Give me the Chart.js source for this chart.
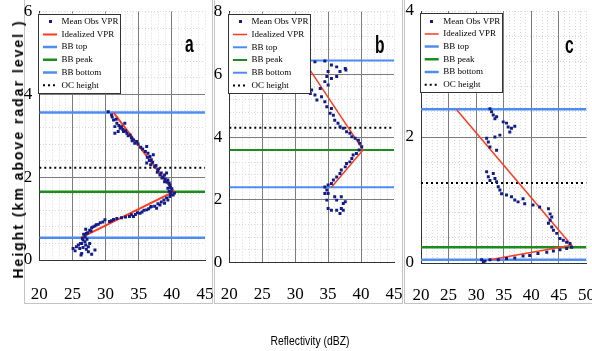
<!DOCTYPE html>
<html>
<head>
<meta charset="utf-8">
<script src="https://cdn.jsdelivr.net/npm/chart.js@4.4.0/dist/chart.umd.min.js"></script>
<style>
  html, body { margin: 0; padding: 0; background: #fff; }
  body { width: 592px; height: 351px; position: relative; overflow: hidden; }
  .box { position: absolute; top: -2px; height: 305.5px; border: 1.5px solid #c4c4c4; box-sizing: border-box; }
  canvas { position: absolute; top: 0; }
  .letter { position: absolute; font: bold 24px "Liberation Sans", Arial, sans-serif; color: #000; line-height: 1;
            transform: scaleX(0.65); transform-origin: 0 0; z-index: 5; }
  #ytitle { position: absolute; left: 18px; top: 149px; transform: translate(-50%, -50%) rotate(-90deg); white-space: nowrap;
            font: bold 14px "Liberation Sans", Arial, sans-serif; letter-spacing: 2px; z-index: 5; }
  #xtitle { position: absolute; left: 310px; top: 340px; transform: translate(-50%, -50%) scaleX(0.8); white-space: nowrap;
            font: 13px "Liberation Sans", Arial, sans-serif; z-index: 5; }
</style>
</head>
<body>
<div class="box" style="left:24px; width:188.5px;"></div>
<div class="box" style="left:213.5px; width:189px;"></div>
<div class="box" style="left:404px; width:192px;"></div>

<canvas id="chartA" width="204" height="303" style="left:14px"></canvas>
<canvas id="chartB" width="204" height="303" style="left:204px"></canvas>
<canvas id="chartC" width="196" height="303" style="left:396px"></canvas>

<div class="letter" style="left:184.7px; top:32.4px;">a</div>
<div class="letter" style="left:375px; top:32.7px;">b</div>
<div class="letter" style="left:564.7px; top:32.7px;">c</div>
<div id="ytitle">Height (km above radar level )</div>
<div id="xtitle">Reflectivity (dBZ)</div>

<script>
// series names (legend)
const seriesNames = ['Mean Obs VPR', 'Idealized VPR', 'BB top', 'BB peak', 'BB bottom', 'OC height'];

// panel a: [dBZ, km]
const obsA = [[30.4,3.58],[30.9,3.50],[31.0,3.45],[31.2,3.38],[31.6,3.40],[31.4,3.22],[31.7,3.30],[32.0,3.25],[31.9,3.10],[31.4,3.06],
  [32.2,3.18],[32.4,3.22],[32.6,3.15],[32.9,3.30],[32.7,3.10],[33.0,3.12],[33.2,3.06],[33.4,3.00],[33.7,3.02],[33.9,2.95],
  [34.0,2.88],[34.2,2.90],[34.4,2.82],[34.7,2.86],[34.9,2.80],[35.3,2.72],[35.6,2.68],[36.0,2.62],[36.2,2.74],[36.4,2.58],
  [36.3,2.48],[36.7,2.50],[36.6,2.40],[36.9,2.42],[37.2,2.54],[36.8,2.30],[37.1,2.36],[36.2,2.34],[37.4,2.25],[37.6,2.28],
  [37.9,2.17],[37.8,2.12],[38.0,2.20],[38.2,2.05],[38.4,2.10],[38.5,1.98],[38.7,2.00],[38.9,2.05],[39.2,2.10],[39.0,1.95],
  [39.4,1.93],[38.9,1.89],[39.3,1.88],[39.6,1.86],[39.7,1.81],[39.8,1.75],[39.4,1.73],[40.0,1.72],[39.6,1.66],[39.9,1.65],
  [40.4,1.62],[40.2,1.57],[39.8,1.58],[39.7,1.53],[39.2,1.50],[39.4,1.45],[38.8,1.45],[38.4,1.40],[38.9,1.37],[37.9,1.36],
  [38.2,1.33],[37.4,1.30],[36.9,1.29],[36.8,1.28],[37.7,1.25],[36.5,1.24],[36.2,1.21],[35.8,1.20],[35.5,1.16],[35.2,1.13],
  [34.8,1.14],[34.5,1.10],[34.2,1.05],[33.9,1.09],[33.6,1.05],[33.0,1.04],[32.4,1.02],[31.7,1.00],[31.2,0.98],[30.9,0.95],
  [30.6,0.93],[29.9,0.97],[29.6,0.92],[29.2,0.90],[28.9,0.86],[28.6,0.85],[28.4,0.82],[28.1,0.80],[27.9,0.78],[27.6,0.72],
  [27.8,0.70],[27.3,0.66],[27.0,0.74],[27.1,0.64],[26.7,0.62],[26.9,0.56],[26.5,0.52],[27.2,0.50],[26.6,0.48],[26.9,0.44],
  [26.4,0.40],[27.6,0.40],[27.0,0.36],[26.2,0.40],[25.9,0.36],[25.6,0.32],[27.4,0.32],[26.6,0.30],[26.1,0.28],[25.1,0.28],
  [28.4,0.24],[25.4,0.22],[27.1,0.26],[27.4,0.20],[26.4,0.16],[26.3,0.12],[27.9,0.14]];
const idealA = [[31.2,3.56],[40.3,1.65],[26.3,0.54]];
const levelsA = [3.56, 1.65, 0.54, 2.23];   // BB top, BB peak, BB bottom, OC height

// panel b
const obsB = [[33.0,6.40],[34.5,6.43],[35.5,6.30],[36.3,6.24],[37.6,6.19],[37.7,6.14],[35.0,6.09],[34.8,5.93],[34.5,5.77],[35.5,5.87],
  [36.3,5.93],[36.8,6.09],[35.0,5.66],[33.8,5.55],[32.5,5.50],[32.3,5.39],[33.0,5.34],[33.3,5.18],[34.0,5.29],[34.5,5.13],
  [34.8,4.97],[35.5,4.91],[35.3,4.76],[35.8,4.70],[36.0,4.54],[36.5,4.44],[36.8,4.33],[37.3,4.28],[37.8,4.17],[38.3,4.12],
  [38.6,4.01],[39.1,3.96],[39.6,3.90],[39.8,3.80],[40.1,3.69],[39.7,3.59],[39.3,3.48],[38.8,3.43],[38.6,3.32],[38.3,3.21],
  [37.8,3.16],[37.6,3.05],[37.0,2.95],[36.8,2.84],[36.3,2.73],[35.8,2.63],[35.5,2.52],[35.0,2.47],[34.5,2.41],[34.8,2.31],
  [35.0,2.20],[34.5,2.20],[36.0,2.10],[36.3,1.99],[37.0,2.10],[37.3,1.88],[37.6,1.94],[35.0,1.72],[35.5,1.67],[36.3,1.67],
  [36.8,1.56],[37.0,1.72],[37.3,1.67],[34.8,1.99]];
const idealB = [[31.3,6.44],[40.3,3.59],[35.5,2.40]];
const levelsB = [6.44, 3.59, 2.40, 4.30];

// panel c
const obsC = [[32.5,2.45],[32.8,2.40],[33.1,2.35],[33.4,2.29],[33.7,2.32],[34.9,2.24],[35.5,2.22],[35.8,2.16],[36.4,2.14],[37.0,2.17],
  [36.1,2.08],[34.3,2.03],[33.4,2.00],[31.9,1.98],[32.2,1.92],[32.5,1.84],[33.7,1.79],[31.9,1.45],[32.2,1.37],[32.5,1.31],
  [33.1,1.42],[33.4,1.34],[33.7,1.29],[34.0,1.21],[34.3,1.16],[34.6,1.10],[35.5,1.08],[36.4,1.05],[37.0,1.00],[37.6,0.97],
  [38.5,1.02],[38.8,0.94],[40.3,0.92],[41.5,0.89],[43.1,0.86],[43.4,0.78],[43.7,0.73],[43.4,0.68],[43.1,0.63],[43.7,0.57],
  [44.0,0.52],[44.6,0.47],[45.2,0.39],[45.8,0.36],[46.4,0.33],[47.0,0.31],[47.3,0.25],[46.4,0.23],[45.2,0.21],[44.0,0.19],
  [42.8,0.17],[41.2,0.15],[39.7,0.12],[38.5,0.11],[37.0,0.08],[35.5,0.07],[34.0,0.05],[32.5,0.05],[31.6,0.03],[31.0,0.05],
  [31.3,0.02]];
const idealC = [[26.5,2.43],[47.3,0.28],[32.5,0.05]];
const levelsC = [2.44, 0.25, 0.05, 1.27];

// axis ranges
const xRangeA = [20, 45], yRangeA = [0, 6];
const xRangeB = [20, 45], yRangeB = [0, 8];
const xRangeC = [20, 50], yRangeC = [0, 4];

const NAVY = '#121c88', RED = '#ff3b1f', BLUE = '#4f8cf0', GREEN = '#1f8a1f';

// small navy dot used as legend marker for the observations
const dotImg = document.createElement('canvas');
dotImg.width = 3; dotImg.height = 3;
dotImg.getContext('2d').fillStyle = NAVY;
dotImg.getContext('2d').fillRect(0, 0, 3, 3);

Chart.defaults.font.family = '"Liberation Serif", serif';
Chart.defaults.color = '#000';

// legend drawn on top of the data, with white box
const legendOnTop = {
  id: 'legendOnTop',
  afterLayout(chart) {
    const lg = chart.legend, ca = chart.chartArea;
    lg.left = ca.left; lg.right = ca.right;
    lg.top = ca.top + 2; lg.bottom = ca.bottom;
  },
  afterDatasetsDraw(chart) {
    const lg = chart.legend, hb = lg.legendHitBoxes, ctx = chart.ctx;
    if (!hb || !hb.length) return;
    const l = lg.left - 1.5, t = lg.top;
    const r = Math.max(...hb.map(h => h.left + h.width)) + 2;
    const last = hb[hb.length - 1];
    const b = last.top + last.height + 4;
    ctx.save();
    ctx.fillStyle = '#fff';
    ctx.fillRect(l, t, r - l, b - t);
    ctx.strokeStyle = '#333';
    ctx.lineWidth = 1;
    ctx.strokeRect(Math.round(l) + 0.5, Math.round(t) + 0.5, Math.round(r - l) - 1, Math.round(b - t) - 1);
    ctx.restore();
    lg.draw();
  }
};

const isMult = (v, m) => Math.abs(v / m - Math.round(v / m)) < 1e-6;

function makePanel(id, obs, ideal, levels, xr, yr, g) {
  const hline = y => [{x: xr[0], y: y}, {x: xr[1], y: y}];
  const datasets = [
    {label: seriesNames[0], data: obs.map(p => ({x: p[0], y: p[1]})), pointStyle: 'rect', pointRadius: 2.1,
     backgroundColor: NAVY, borderColor: NAVY, borderWidth: 0},
    {label: seriesNames[1], data: ideal.map(p => ({x: p[0], y: p[1]})), showLine: true, pointRadius: 0,
     borderColor: RED, borderWidth: g.redW},
    {label: seriesNames[2], data: hline(levels[0]), showLine: true, pointRadius: 0, borderColor: BLUE, borderWidth: g.bbW},
    {label: seriesNames[3], data: hline(levels[1]), showLine: true, pointRadius: 0, borderColor: GREEN, borderWidth: g.bbW},
    {label: seriesNames[4], data: hline(levels[2]), showLine: true, pointRadius: 0, borderColor: BLUE, borderWidth: g.bbW},
    {label: seriesNames[5], data: hline(levels[3]), showLine: true, pointRadius: 0, borderColor: '#000', borderWidth: 2,
     borderDash: [2, 3]}
  ];

  return new Chart(document.getElementById(id), {
    type: 'scatter',
    data: {datasets: datasets},
    plugins: [legendOnTop],
    options: {
      responsive: false,
      animation: false,
      events: [],
      layout: {padding: {top: g.top, right: g.right, left: 0, bottom: 0}},
      plugins: {
        tooltip: {enabled: false},
        legend: {
          position: 'chartArea',
          align: 'start',
          labels: {
            font: {size: 9, family: '"Liberation Serif", serif'},
            color: '#000',
            padding: 3.7,
            usePointStyle: true,
            pointStyleWidth: 14,
            boxHeight: 4,
            generateLabels: chart => chart.data.datasets.map((ds, i) => ({
              text: ds.label,
              datasetIndex: i,
              pointStyle: i === 0 ? dotImg : 'line',
              strokeStyle: ds.borderColor,
              fillStyle: ds.borderColor,
              lineWidth: i === 0 ? 0 : Math.min(ds.borderWidth, 2.5),
              lineDash: ds.borderDash || [],
              hidden: false
            }))
          }
        }
      },
      scales: {
        x: {
          type: 'linear', position: 'bottom', min: xr[0], max: xr[1],
          ticks: {stepSize: 1, autoSkip: false, maxRotation: 0, minRotation: 0, padding: g.xPad,
                  font: {size: 17}, callback: v => isMult(v, 5) ? String(v) : ''},
          grid: {color: '#dadada', lineWidth: 1, drawTicks: false},
          border: {color: '#333', width: 1, dash: [1, 2]},
          afterFit: s => { s.height = g.xH; s.paddingLeft = 0; s.paddingRight = 0; }
        },
        y: {
          type: 'linear', position: 'left', min: yr[0], max: yr[1],
          ticks: {stepSize: 0.4, autoSkip: false, padding: 7, font: {size: 17},
                  callback: v => isMult(v, 2) ? String(Math.round(v)) : ''},
          grid: {color: '#dadada', lineWidth: 1, drawTicks: false},
          border: {color: '#333', width: 1, dash: [1, 2]},
          afterFit: s => { s.width = g.yW; s.paddingTop = 0; s.paddingBottom = 0; }
        },
        xMaj: {
          type: 'linear', position: 'bottom', min: xr[0], max: xr[1],
          ticks: {display: false, stepSize: 5},
          grid: {drawTicks: false, color: c => (c.tick && c.tick.value === xr[1]) ? 'rgba(0,0,0,0)' : '#7c7c7c'},
          border: {display: false},
          afterFit: s => { s.height = 0; s.paddingLeft = 0; s.paddingRight = 0; }
        },
        yMaj: {
          type: 'linear', position: 'left', min: yr[0], max: yr[1],
          ticks: {display: false, stepSize: 2},
          grid: {drawTicks: false, color: c => (c.tick && c.tick.value === yr[1]) ? 'rgba(0,0,0,0)' : '#7c7c7c'},
          border: {display: false},
          afterFit: s => { s.width = 0; s.paddingTop = 0; s.paddingBottom = 0; }
        }
      }
    }
  });
}

makePanel('chartA', obsA, idealA, levelsA, xRangeA, yRangeA,
  {top: 11.5, right: 13, yW: 25.3, xH: 43, xPad: 24, redW: 2, bbW: 2.5});
makePanel('chartB', obsB, idealB, levelsB, xRangeB, yRangeB,
  {top: 11.7, right: 14, yW: 25.3, xH: 40.5, xPad: 22, redW: 1.5, bbW: 2});
makePanel('chartC', obsC, idealC, levelsC, xRangeC, yRangeC,
  {top: 11, right: 5.5, yW: 25, xH: 40, xPad: 22, redW: 1.5, bbW: 2.5});
</script>
</body>
</html>
